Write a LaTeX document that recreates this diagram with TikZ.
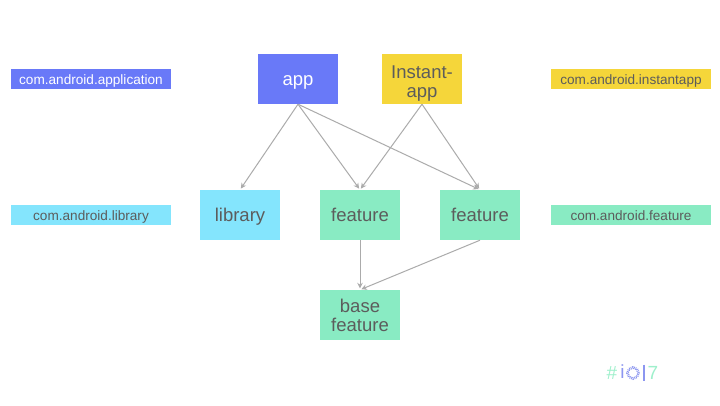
\documentclass[tikz,border=0pt]{standalone}
\usepackage{fontspec}
\setmainfont{Liberation Sans}
\usetikzlibrary{arrows.meta}
\definecolor{appblue}{HTML}{6979F8}
\definecolor{instyellow}{HTML}{F5D63A}
\definecolor{libcyan}{HTML}{84E5FD}
\definecolor{featgreen}{HTML}{89EBC3}
\definecolor{inkgray}{HTML}{5C5C5C}
\definecolor{linkgray}{HTML}{ABABAB}
\definecolor{logogreen}{HTML}{9FF0CC}
\definecolor{logoblue}{HTML}{8C96F0}
\begin{document}
\begin{tikzpicture}[x=1pt,y=-1pt,
  module/.style={minimum width=80pt,minimum height=50pt,inner sep=0pt,
    align=center,font=\fontsize{18.5}{19}\selectfont,text=inkgray},
  oneline/.style={text height=13pt,text depth=0pt},
  tag/.style={minimum width=160pt,minimum height=20pt,inner sep=0pt,
    text height=10pt,text depth=0pt,
    font=\fontsize{13.6}{15}\selectfont,text=inkgray},
  dep/.style={draw=linkgray,line width=1pt,
    -{Stealth[length=5.5pt,width=5.5pt]},shorten >=1.5pt}]
\useasboundingbox (0,0) rectangle (720,405);
\fill[white] (0,0) rectangle (720,405);

% modules
\node[module,oneline,fill=appblue,text=white] (app) at (298,79) {app};
\node[module,fill=instyellow] (inst) at (422,79) {\rule{0pt}{21pt}Instant-\\app};
\node[module,oneline,fill=libcyan] (lib) at (240,215) {library};
\node[module,oneline,fill=featgreen] (feat1) at (360,215) {feature};
\node[module,oneline,fill=featgreen] (feat2) at (480,215) {feature};
\node[module,fill=featgreen] (base) at (360,315) {base\\feature};

% plugin tags
\node[tag,fill=appblue,text=white] (tapp) at (91,79) {com.android.application};
\node[tag,fill=instyellow] (tinst) at (631,79) {com.android.instantapp};
\node[tag,fill=libcyan] (tlib) at (91,215) {com.android.library};
\node[tag,fill=featgreen] (tfeat) at (631,215) {com.android.feature};

% dependencies
\draw[dep] (app.south) -- (lib.north);
\draw[dep] (app.south) -- (feat1.north);
\draw[dep] (app.south) -- (feat2.north);
\draw[dep] (inst.south) -- (feat1.north);
\draw[dep] (inst.south) -- (feat2.north);
\draw[dep] (feat1.south) -- (base.north);
\draw[dep] (feat2.south) -- (base.north);

% event mark
\node[inner sep=0pt,text=logogreen,font=\fontsize{19}{20}\selectfont] (hash) at (612,373) {\#};
\node[inner sep=0pt,text=logoblue,font=\fontsize{19}{20}\selectfont] (ichar) at (622.5,372) {i};
\draw[logoblue,line width=2.6pt,dash pattern=on 0.8pt off 0.9pt] (633,373) circle (5.6pt);
\draw[logoblue,line width=1.3pt] (644,364.5) -- (644,381);
\node[inner sep=0pt,text=logogreen,font=\fontsize{19}{20}\selectfont] (seven) at (653,373) {7};
\end{tikzpicture}
\end{document}
